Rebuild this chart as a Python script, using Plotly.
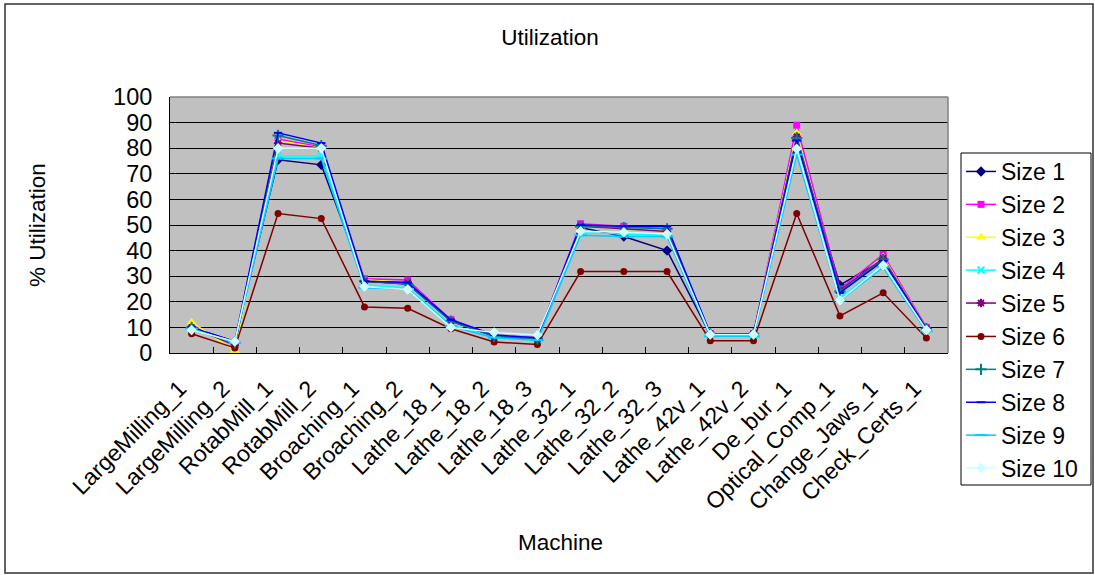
import plotly.graph_objects as go

machines = ["LargeMilling_1", "LargeMilling_2", "RotabMill_1", "RotabMill_2",
            "Broaching_1", "Broaching_2", "Lathe_18_1", "Lathe_18_2", "Lathe_18_3",
            "Lathe_32_1", "Lathe_32_2", "Lathe_32_3", "Lathe_42v_1", "Lathe_42v_2",
            "De_bur_1", "Optical_Comp_1", "Change_Jaws_1", "Check_Certs_1"]

size_1 = [10, 4.5, 75.5, 73.5, 28, 27, 12.5, 6.5, 5.5, 49, 45.5, 40, 7, 7, 83, 26.5, 36.5, 9]
size_2 = [10.5, 3.5, 83.5, 80.5, 29, 28.5, 13, 7, 6, 50.5, 49.5, 48.5, 7.5, 7.5, 89, 25, 38.5, 10]
size_3 = [12, 1, 83, 80, 28.5, 27.5, 12.5, 7, 5.5, 49.5, 48.5, 47.5, 7.5, 7.5, 86, 23.5, 37.5, 9.5]
size_4 = [9.5, 4, 77, 77, 26.5, 25.5, 11, 6, 5, 47, 46.5, 46, 7, 7, 79, 21.5, 34.5, 9]
size_5 = [10, 3, 82, 80, 28, 27.5, 12.5, 6.5, 5.5, 49.5, 48.5, 47.5, 7.5, 7.5, 84.5, 24.5, 37, 9.5]
size_6 = [7.5, 2, 54.5, 52.5, 18, 17.5, 9.5, 4.3, 3.3, 31.8, 31.8, 31.8, 4.8, 4.8, 54.5, 14.5, 23.5, 5.9]
size_7 = [10, 4, 85, 81, 28, 27, 12.5, 6.5, 5.5, 49.5, 49, 48.5, 7.5, 7.5, 84, 24, 36.5, 9.5]
size_8 = [10, 4.5, 86, 82, 28, 27.5, 13, 7, 6, 50, 49.5, 49.5, 7.5, 7.5, 83, 23.5, 36, 9.5]
size_9 = [9.5, 4, 76, 76, 25.5, 25, 10.5, 6, 5, 46, 45.5, 45.5, 6.5, 6.5, 77.5, 20.5, 33.5, 8.5]
size_10 = [9, 4.5, 80, 80, 26, 24.8, 10, 8, 7, 47.6, 47.2, 46.5, 7.2, 7.2, 79.8, 20.6, 34.3, 9]

series_names = ["Size 1", "Size 2", "Size 3", "Size 4", "Size 5",
                "Size 6", "Size 7", "Size 8", "Size 9", "Size 10"]
series_values = [size_1, size_2, size_3, size_4, size_5,
                 size_6, size_7, size_8, size_9, size_10]
colors = ["#000080", "#FF00FF", "#FFFF00", "#00FFFF", "#800080",
          "#800000", "#008080", "#0000FF", "#00CCFF", "#CCFFFF"]
symbols = ["diamond", "square", "triangle-up", "x-thin-open", "asterisk-open",
           "circle", "cross-thin-open", "line-ew-open", "line-ew-open", "diamond"]
msizes = [8, 7, 9, 7, 7, 7, 8, 6, 9, 8]

FONT = "Arial, Liberation Sans, sans-serif"

fig = go.Figure()
for i, (name, vals, col, sym, ms) in enumerate(zip(series_names, series_values, colors, symbols, msizes)):
    fig.add_trace(go.Scatter(
        x=machines, y=vals, name=name, mode="lines+markers",
        line=dict(color=col, width=1.5),
        marker=dict(symbol=sym, size=ms, color=col, line=dict(color=col, width=2 if "open" in sym else 0)),
        legend="legend" if i < 5 else "legend2",
    ))

W, H = 1095, 575
L, R, T, B = 170, 948, 97, 353
pw, ph = R - L, B - T

def px(x):
    return (x - L) / pw

def py(y):
    return (B - y) / ph

LEG_L, LEG_R, LEG_T, LEG_B = 961, 1091, 153, 485

leg_common = dict(xref="container", yref="container", xanchor="left", yanchor="top",
                  bgcolor="rgba(0,0,0,0)", borderwidth=0, tracegroupgap=0,
                  font=dict(family=FONT, size=23, color="black"))

fig.update_layout(
    width=W, height=H,
    margin=dict(l=L, r=W - R, t=T, b=H - B),
    paper_bgcolor="white", plot_bgcolor="#C0C0C0",
    font=dict(family=FONT, size=22.5, color="black"),
    title=dict(text="Utilization", x=550 / W, xref="container", xanchor="center",
               y=1 - 37 / H, yref="container", yanchor="middle",
               font=dict(family=FONT, size=22.5, color="black")),
    showlegend=True,
    legend=dict(x=LEG_L / W, y=1 - 150 / H, **leg_common),
    legend2=dict(x=LEG_L / W, y=1 - 315 / H, **leg_common),
    xaxis=dict(type="category", showgrid=False, zeroline=False,
               showline=True, linecolor="black", linewidth=1,
               ticks="inside", ticklen=6, tickcolor="black", tickson="boundaries",
               tickangle=-45, ticklabelstandoff=12, ticklabelshift=-12,
               tickfont=dict(family=FONT, size=23, color="black"),
               range=[-0.5, len(machines) - 0.5]),
    yaxis=dict(range=[0, 100], dtick=10, showgrid=True, gridcolor="black", gridwidth=1,
               zeroline=False, showline=True, linecolor="black", linewidth=1,
               ticks="", ticklabelstandoff=12,
               tickfont=dict(family=FONT, size=23.5, color="black")),
    shapes=[
        dict(type="line", xref="paper", yref="paper", x0=0, x1=1, y0=1, y1=1,
             line=dict(color="#808080", width=1.5), layer="above"),
        dict(type="line", xref="paper", yref="paper", x0=1, x1=1, y0=0, y1=1,
             line=dict(color="#808080", width=1.5), layer="above"),
        dict(type="rect", xref="paper", yref="paper",
             x0=px(5), x1=px(1093), y0=py(573), y1=py(4),
             line=dict(color="#303030", width=1.5), layer="above"),
        dict(type="rect", xref="paper", yref="paper",
             x0=px(LEG_L), x1=px(LEG_R), y0=py(LEG_B), y1=py(LEG_T),
             line=dict(color="black", width=1), fillcolor="white", layer="below"),
    ],
    annotations=[
        dict(text="Machine", xref="paper", yref="paper", x=px(560), y=py(542),
             xanchor="center", yanchor="middle", showarrow=False,
             font=dict(family=FONT, size=22.5, color="black")),
        dict(text="% Utilization", xref="paper", yref="paper", x=px(37), y=py(225),
             xanchor="center", yanchor="middle", showarrow=False, textangle=-90,
             font=dict(family=FONT, size=22.5, color="black")),
    ],
)

fig.write_html("out.html")
